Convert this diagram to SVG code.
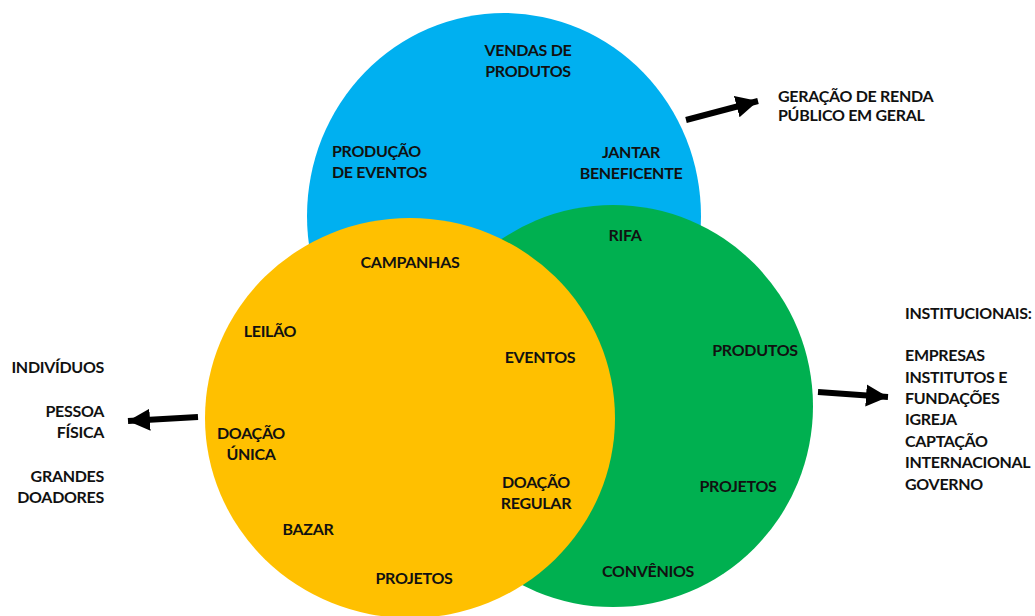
<svg xmlns="http://www.w3.org/2000/svg" width="1035" height="616" viewBox="0 0 1035 616">
<defs>
<style>
text{font-family:Lato,"Open Sans","Liberation Sans",sans-serif;font-weight:bold;font-size:16px;letter-spacing:-0.3px;fill:#111}
.c{text-anchor:middle}
.r{text-anchor:end}
.arr{stroke:#000;stroke-width:6;fill:none}
</style>
<marker id="ah" markerUnits="userSpaceOnUse" markerWidth="24" markerHeight="24" viewBox="0 0 24 24" refX="22" refY="12" orient="auto">
<path d="M0,1 L22,12 L0,23 Z" fill="#000"/>
</marker>
</defs>
<rect width="1035" height="616" fill="#fff"/>
<g id="blue">
<ellipse cx="504" cy="216" rx="197" ry="203" fill="#00B0F0"/>
</g>
<g id="green">
<ellipse cx="613" cy="406" rx="200" ry="201" fill="#00B050"/>
</g>
<g id="orange">
<ellipse cx="410" cy="418" rx="205" ry="200" fill="#FFC000"/>
</g>
<g id="blue-labels">
<text class="c" x="528" y="56">VENDAS DE</text>
<text class="c" x="528" y="77">PRODUTOS</text>
<text x="332" y="157">PRODUÇÃO</text>
<text x="332" y="178">DE EVENTOS</text>
<text class="c" x="631" y="158">JANTAR</text>
<text class="c" x="631" y="179">BENEFICENTE</text>
</g>
<g id="green-labels">
<text class="c" x="625" y="241">RIFA</text>
<text class="c" x="755" y="356">PRODUTOS</text>
<text class="c" x="738" y="492">PROJETOS</text>
<text class="c" x="648" y="577">CONVÊNIOS</text>
</g>
<g id="orange-labels">
<text class="c" x="410" y="268">CAMPANHAS</text>
<text class="c" x="270" y="337">LEILÃO</text>
<text class="c" x="540" y="363">EVENTOS</text>
<text class="c" x="251" y="439">DOAÇÃO</text>
<text class="c" x="251" y="460">ÚNICA</text>
<text class="c" x="536" y="488">DOAÇÃO</text>
<text class="c" x="536" y="509">REGULAR</text>
<text class="c" x="308" y="535">BAZAR</text>
<text class="c" x="414" y="584">PROJETOS</text>
</g>
<g id="left-labels">
<text class="r" x="104" y="373">INDIVÍDUOS</text>
<text class="r" x="104" y="417">PESSOA</text>
<text class="r" x="104" y="438">FÍSICA</text>
<text class="r" x="104" y="482">GRANDES</text>
<text class="r" x="104" y="503">DOADORES</text>
</g>
<g id="top-right-labels">
<text x="778" y="102">GERAÇÃO DE RENDA</text>
<text x="778" y="121">PÚBLICO EM GERAL</text>
</g>
<g id="right-labels">
<text x="905" y="319">INSTITUCIONAIS:</text>
<text x="905" y="361">EMPRESAS</text>
<text x="905" y="383">INSTITUTOS E</text>
<text x="905" y="404">FUNDAÇÕES</text>
<text x="905" y="425">IGREJA</text>
<text x="905" y="447">CAPTAÇÃO</text>
<text x="905" y="468">INTERNACIONAL</text>
<text x="905" y="490">GOVERNO</text>
</g>
<g id="connectors">
<line class="arr" x1="686" y1="120" x2="758" y2="101" marker-end="url(#ah)"/>
<line class="arr" x1="198" y1="417" x2="128" y2="421" marker-end="url(#ah)"/>
<line class="arr" x1="818" y1="392" x2="888" y2="397" marker-end="url(#ah)"/>
</g>
</svg>
